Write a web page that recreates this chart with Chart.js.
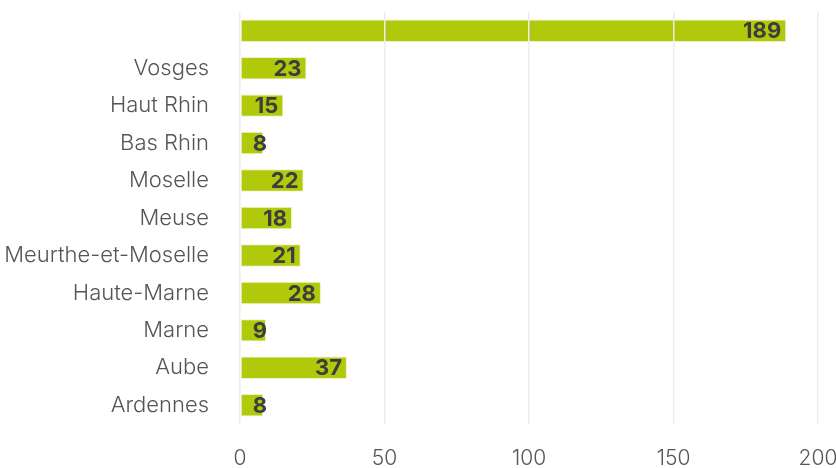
<!DOCTYPE html>
<html>
<head>
<meta charset="utf-8">
<script src="https://cdn.jsdelivr.net/npm/chart.js@4/dist/chart.umd.min.js"></script>
<style>
  html, body { margin: 0; padding: 0; background: #fff; }
  #wrap { width: 836px; height: 468px; }
</style>
</head>
<body>
<div id="wrap"><canvas id="chart" width="836" height="468"></canvas></div>
<script>
let labels = ["", "Vosges", "Haut Rhin", "Bas Rhin", "Moselle", "Meuse", "Meurthe-et-Moselle", "Haute-Marne", "Marne", "Aube", "Ardennes"];
let values = [189, 23, 15, 8, 22, 18, 21, 28, 9, 37, 8];
let xTicks = [0, 50, 100, 150, 200];

// value labels drawn at the end of each bar
let valueLabels = {
  id: "valueLabels",
  afterDatasetsDraw(chart) {
    let ctx = chart.ctx;
    let meta = chart.getDatasetMeta(0);
    ctx.save();
    ctx.font = "bold 22px Inter";
    ctx.fillStyle = "#3d3d3d";
    ctx.textAlign = "right";
    ctx.textBaseline = "middle";
    meta.data.forEach((bar, i) => {
      let txt = String(values[i]);
      let w = ctx.measureText(txt).width;
      let x = Math.max(bar.x - 5, bar.base + 12 + w);
      ctx.fillText(txt, x, bar.y + 1);
    });
    ctx.restore();
  }
};

function noPad(s) {
  s.paddingLeft = 0;
  s.paddingRight = 0;
  s.paddingTop = 0;
  s.paddingBottom = 0;
}

new Chart(document.getElementById("chart"), {
  type: "bar",
  data: {
    labels: labels,
    datasets: [{
      data: values,
      backgroundColor: "#b0c90a",
      borderColor: "rgba(235,242,190,0.9)",
      borderWidth: 1,
      borderSkipped: false,
      barPercentage: 0.6,
      categoryPercentage: 1
    }]
  },
  options: {
    indexAxis: "y",
    responsive: false,
    animation: false,
    layout: { padding: { top: 12, right: 18, left: 0, bottom: 0 } },
    plugins: { legend: { display: false }, tooltip: { enabled: false } },
    scales: {
      x: {
        min: 0,
        max: 200,
        afterBuildTicks: s => { s.ticks = xTicks.map(v => ({ value: v })); },
        afterFit: s => { s.height = 44; noPad(s); },
        grid: { color: "#ececec", lineWidth: 1.5, drawTicks: false, z: 1 },
        border: { display: false },
        ticks: { padding: 22, maxRotation: 0, color: "#555", font: { family: "Inter", size: 21, weight: 300 } }
      },
      y: {
        afterFit: s => { s.width = 240; noPad(s); },
        grid: { display: false, drawTicks: false },
        border: { display: false },
        ticks: { padding: 31, color: "#555", font: { family: "Inter", size: 22, weight: 300 } }
      }
    }
  },
  plugins: [valueLabels]
});
</script>
</body>
</html>
